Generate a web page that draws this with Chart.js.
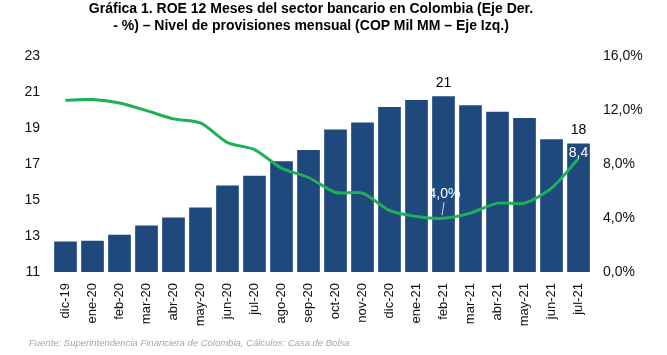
<!DOCTYPE html>
<html>
<head>
<meta charset="utf-8">
<script src="https://cdn.jsdelivr.net/npm/chart.js@4"></script>
<style>
  html, body { margin: 0; padding: 0; background: #ffffff; }
  #wrap { position: relative; width: 667px; height: 355px; overflow: hidden; background: #fff; }
  #chart { position: absolute; left: 0; top: 0; }
  #title { position: absolute; left: 0; top: 0; width: 622px; text-align: center;
    font-family: "Liberation Sans Narrow", "Arial Narrow", "Liberation Sans", Arial, sans-serif;
    font-weight: bold; font-size: 14px; line-height: 16.5px; color: #000; }
  #source { position: absolute; left: 29px; top: 337px; white-space: nowrap;
    font-family: "Liberation Sans", Arial, sans-serif; font-style: italic; font-size: 9.5px; color: #a6a6a6; }
</style>
</head>
<body>
<div id="wrap">
  <canvas id="chart" width="667" height="355"></canvas>
  <div id="title">Gráfica 1. ROE 12 Meses del sector bancario en Colombia (Eje Der.<br>- %) – Nivel de provisiones mensual (COP Mil MM – Eje Izq.)</div>
  <div id="source">Fuente: Superintendencia Financiera de Colombia, Cálculos: Casa de Bolsa</div>
</div>
<script>
const categories = ["dic-19","ene-20","feb-20","mar-20","abr-20","may-20","jun-20","jul-20","ago-20","sep-20","oct-20","nov-20","dic-20","ene-21","feb-21","mar-21","abr-21","may-21","jun-21","jul-21"];
const provisiones = [12.70, 12.73, 13.07, 13.58, 14.03, 14.58, 15.80, 16.35, 17.15, 17.78, 18.92, 19.30, 20.16, 20.55, 20.77, 20.27, 19.90, 19.55, 18.38, 18.14];
const roe = [12.72, 12.77, 12.52, 11.95, 11.34, 11.04, 9.59, 9.07, 7.69, 7.00, 5.89, 5.84, 4.56, 4.11, 3.98, 4.36, 5.10, 5.10, 6.21, 8.40];
const leftTicks = [11, 13, 15, 17, 19, 21, 23];
const rightTicks = [0, 4, 8, 12, 16];
const barLabelCats = ["feb-21", "jul-21"];
const lineLabelCats = ["feb-21", "jul-21"];
const lineLabelTexts = ["4,0%", "8,4"];

const fmtPct = v => v.toFixed(1).replace('.', ',') + '%';

const labelPlugin = {
  id: 'labels',
  afterDatasetsDraw(chart) {
    const ctx = chart.ctx;
    ctx.save();
    ctx.font = '14px "Liberation Sans", Arial, sans-serif';
    ctx.textAlign = 'center';
    ctx.textBaseline = 'middle';
    const barMeta = chart.getDatasetMeta(0);
    barLabelCats.forEach(c => {
      const i = categories.indexOf(c);
      const el = barMeta.data[i];
      ctx.fillStyle = '#000';
      ctx.fillText(String(Math.round(provisiones[i])), el.x, el.y - 13);
    });
    const lineMeta = chart.getDatasetMeta(1);
    lineLabelCats.forEach((c, k) => {
      const i = categories.indexOf(c);
      const el = lineMeta.data[i];
      ctx.fillStyle = '#ffffff';
      if (k === 0) {
        ctx.fillText(lineLabelTexts[k], el.x + 1, el.y - 24);
        ctx.strokeStyle = '#d9d9d9';
        ctx.lineWidth = 1;
        ctx.beginPath();
        ctx.moveTo(el.x + 0.5, el.y - 16);
        ctx.lineTo(el.x - 1.5, el.y - 3);
        ctx.stroke();
      } else {
        ctx.fillText(lineLabelTexts[k], el.x, el.y - 5);
      }
    });
    ctx.restore();
  }
};

const tickFont = { family: '"Liberation Sans", Arial, sans-serif', size: 14 };

new Chart(document.getElementById('chart'), {
  data: {
    labels: categories,
    datasets: [
      {
        type: 'bar',
        data: provisiones,
        yAxisID: 'y',
        backgroundColor: '#1F497D',
        barPercentage: 0.84,
        categoryPercentage: 1.0,
        order: 2
      },
      {
        type: 'line',
        data: roe,
        yAxisID: 'y1',
        borderColor: '#1DB055',
        borderWidth: 3,
        pointRadius: 0,
        tension: 0.25,
        fill: false,
        order: 1
      }
    ]
  },
  options: {
    responsive: false,
    animation: false,
    devicePixelRatio: 1,
    layout: { padding: { top: 56, left: 0, right: 0, bottom: 0 } },
    plugins: { legend: { display: false }, title: { display: false }, tooltip: { enabled: false } },
    scales: {
      x: {
        offset: true,
        grid: { display: false, drawTicks: false },
        border: { display: false },
        ticks: { autoSkip: false, minRotation: 90, maxRotation: 90, padding: 11, color: '#111',
          font: { family: '"Liberation Sans", Arial, sans-serif', size: 13 } },
        afterFit: s => { s.height = 83; }
      },
      y: {
        position: 'left',
        min: leftTicks[0], max: leftTicks[leftTicks.length - 1],
        grid: { display: false, drawTicks: false },
        border: { display: false },
        afterBuildTicks: s => { s.ticks = leftTicks.map(v => ({ value: v })); },
        ticks: { padding: 12, color: '#111', font: tickFont },
        afterFit: s => { s.width = 52; }
      },
      y1: {
        position: 'right',
        min: rightTicks[0], max: rightTicks[rightTicks.length - 1],
        grid: { display: false, drawTicks: false },
        border: { display: false },
        afterBuildTicks: s => { s.ticks = rightTicks.map(v => ({ value: v })); },
        ticks: { padding: 11, color: '#111', font: tickFont, callback: v => fmtPct(v) },
        afterFit: s => { s.width = 75; }
      }
    }
  },
  plugins: [labelPlugin]
});
</script>
</body>
</html>
